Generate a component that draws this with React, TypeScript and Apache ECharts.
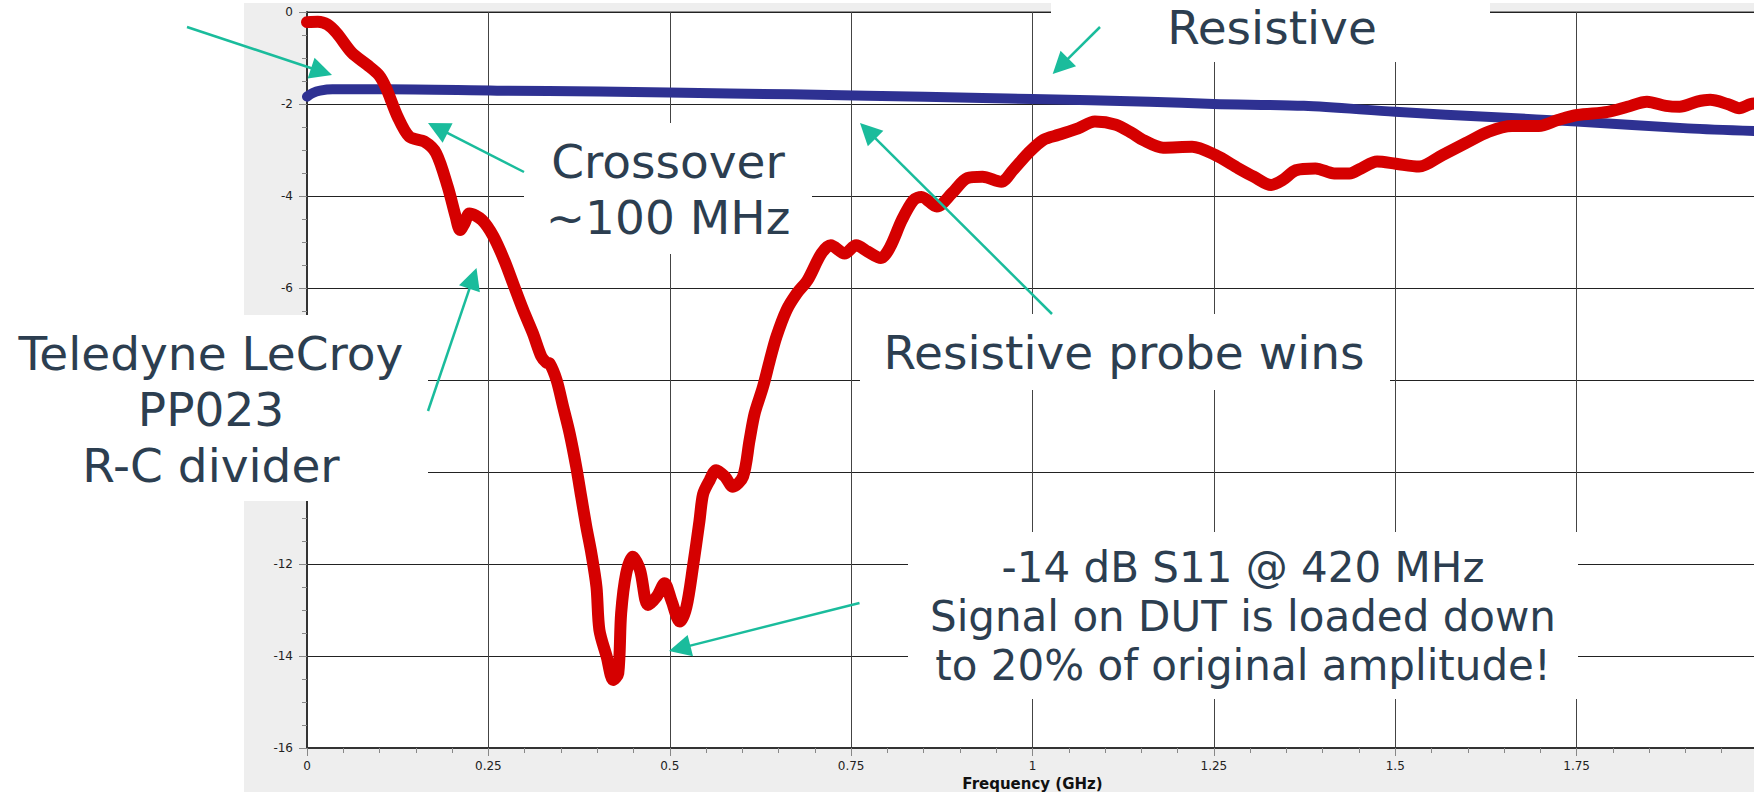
import React, { useEffect, useRef } from "react";
import * as echarts from "echarts";

// S11 of the R-C divider probe (Teledyne LeCroy PP023), dB vs GHz
const pp023Freq = [
  0.0, 0.015, 0.028, 0.041, 0.062, 0.083, 0.099, 0.109, 0.125, 0.141, 0.162, 0.178, 0.194, 0.205, 0.211, 0.217,
  0.224, 0.241, 0.257, 0.272, 0.284, 0.298, 0.3115, 0.323, 0.33, 0.3345, 0.344, 0.353, 0.362, 0.371, 0.378, 0.385,
  0.392, 0.399, 0.403, 0.413, 0.422, 0.429, 0.433, 0.44, 0.449, 0.459, 0.47, 0.482, 0.493, 0.502, 0.514, 0.523,
  0.532, 0.541, 0.546, 0.555, 0.564, 0.576, 0.587, 0.601, 0.61, 0.617, 0.6285, 0.638, 0.647, 0.661, 0.675, 0.69,
  0.709, 0.722, 0.741, 0.757, 0.773, 0.791, 0.804, 0.82, 0.836, 0.847, 0.868, 0.889, 0.91, 0.931, 0.957, 0.973,
  0.994, 1.015, 1.036, 1.063, 1.086, 1.115, 1.137, 1.152, 1.18, 1.22, 1.252, 1.284, 1.305, 1.329, 1.345, 1.363,
  1.39, 1.416, 1.437, 1.453, 1.475, 1.501, 1.533, 1.565, 1.597, 1.629, 1.661, 1.698, 1.724, 1.751, 1.793, 1.82,
  1.847, 1.873, 1.892, 1.916, 1.934, 1.958, 1.974, 1.99, 2.0,
];
const pp023Db = [
  -0.22, -0.21, -0.27, -0.46, -0.89, -1.15, -1.37, -1.65, -2.28, -2.71, -2.82, -3.07, -3.8, -4.45, -4.74, -4.6,
  -4.38, -4.52, -4.88, -5.4, -5.9, -6.48, -6.99, -7.49, -7.62, -7.64, -8.0, -8.58, -9.16, -9.88, -10.54, -11.19,
  -11.77, -12.5, -13.43, -14.01, -14.52, -14.38, -13.07, -12.2, -11.84, -12.13, -12.89, -12.71, -12.42, -12.78, -13.25, -12.93,
  -12.06, -11.06, -10.48, -10.18, -9.96, -10.1, -10.32, -10.1, -9.31, -8.73, -8.15, -7.57, -7.06, -6.48, -6.12, -5.83,
  -5.25, -5.07, -5.25, -5.07, -5.21, -5.35, -5.1, -4.52, -4.09, -4.02, -4.23, -3.94, -3.61, -3.58, -3.69, -3.44,
  -3.07, -2.78, -2.67, -2.53, -2.38, -2.45, -2.63, -2.78, -2.95, -2.93, -3.11, -3.4, -3.58, -3.76, -3.65, -3.44,
  -3.4, -3.51, -3.51, -3.4, -3.25, -3.3, -3.36, -3.11, -2.85, -2.6, -2.48, -2.48, -2.35, -2.24, -2.17, -2.06,
  -1.95, -2.04, -2.06, -1.95, -1.91, -2.0, -2.09, -2.0, -1.98,
];

// S11 of the resistive probe
const resistiveFreq = [
  0.0, 0.008, 0.018, 0.035, 0.11, 0.262, 0.403, 0.498, 0.667, 0.772, 0.931, 1.0, 1.161, 1.25, 1.374, 1.5, 1.639,
  1.75, 1.903, 2.0,
];
const resistiveDb = [
  -1.84, -1.76, -1.71, -1.68, -1.68, -1.71, -1.73, -1.75, -1.79, -1.82, -1.87, -1.89, -1.95, -2.0, -2.04, -2.17,
  -2.29, -2.38, -2.53, -2.59,
];

// Axis ranges and tick steps
const freqRange = [0, 2];
const freqStep = 0.25;
const dbRange = [-16, 0];
const dbStep = 2;
// dB tick labels that sit under the probe callout box
const coveredDbLabels = [-8, -10];

// Callout texts
const calloutTexts = {
  divider: ["Teledyne LeCroy", "PP023", "R-C divider"],
  crossover: ["Crossover", "~100 MHz"],
  resistive: ["Resistive"],
  wins: ["Resistive probe wins"],
  loading: ["-14 dB S11 @ 420 MHz", "Signal on DUT is loaded down", "to 20% of original amplitude!"],
};

// Callout layout (pixels)
const FONT = "DejaVu Sans";
const TEXT_COLOR = "#2c3e50";
const ARROW_COLOR = "#1abc9c";

const whiteBoxes = [
  { x: 0, y: 315, w: 428, h: 186 },
  { x: 524, y: 123, w: 288, h: 131 },
  { x: 1051, y: 0, w: 439, h: 62 },
  { x: 860, y: 314, w: 530, h: 76 },
  { x: 908, y: 532, w: 670, h: 167 },
];

const textBlocks = [
  { lines: calloutTexts.divider, cx: 211, y: 353, step: 56, size: 47 },
  { lines: calloutTexts.crossover, cx: 668, y: 161, step: 56, size: 47 },
  { lines: calloutTexts.resistive, cx: 1272, y: 27, step: 56, size: 47 },
  { lines: calloutTexts.wins, cx: 1124, y: 352, step: 56, size: 47 },
  { lines: calloutTexts.loading, cx: 1243, y: 567, step: 49, size: 42 },
];

const arrows = [
  [187, 27, 332, 75],
  [524, 172, 428, 123],
  [428, 411, 476.5, 268],
  [1100, 27, 1052.7, 74],
  [1052, 314, 860, 123],
  [859.5, 603, 669, 651],
];

function buildGraphics() {
  const els: any[] = [];
  whiteBoxes.forEach((b) => {
    els.push({
      type: "rect",
      z: 100,
      shape: { x: b.x, y: b.y, width: b.w, height: b.h },
      style: { fill: "#ffffff" },
      silent: true,
    });
  });
  textBlocks.forEach((t) => {
    t.lines.forEach((line, i) => {
      els.push({
        type: "text",
        z: 101,
        x: t.cx,
        y: t.y + i * t.step,
        style: {
          text: line,
          fontFamily: FONT,
          fontSize: t.size,
          lineHeight: t.size - 4,
          fill: TEXT_COLOR,
          align: "center",
          verticalAlign: "middle",
        },
        silent: true,
      });
    });
  });
  const headLen = 22;
  const headHalf = 11;
  arrows.forEach(([x1, y1, x2, y2]) => {
    const dx = x2 - x1;
    const dy = y2 - y1;
    const len = Math.hypot(dx, dy);
    const ux = dx / len;
    const uy = dy / len;
    const bx = x2 - ux * headLen;
    const by = y2 - uy * headLen;
    els.push({
      type: "line",
      z: 102,
      shape: { x1, y1, x2: bx + ux * 2, y2: by + uy * 2 },
      style: { stroke: ARROW_COLOR, lineWidth: 2.5 },
      silent: true,
    });
    els.push({
      type: "polygon",
      z: 102,
      shape: {
        points: [
          [x2, y2],
          [bx - uy * headHalf, by + ux * headHalf],
          [bx + uy * headHalf, by - ux * headHalf],
        ],
      },
      style: { fill: ARROW_COLOR },
      silent: true,
    });
  });
  return els;
}

export default function App() {
  const ref = useRef<HTMLDivElement>(null);

  useEffect(() => {
    if (!ref.current) return;
    const chart = echarts.init(ref.current, undefined, { renderer: "svg" });
    const pp023 = pp023Freq.map((f, i) => [f, pp023Db[i]]);
    const resistive = resistiveFreq.map((f, i) => [f, resistiveDb[i]]);

    const axisLabel = { fontFamily: FONT, fontSize: 12, color: "#222" };

    chart.setOption({
      animation: false,
      backgroundColor: "transparent",
      grid: {
        left: 307,
        top: 12,
        width: 1451,
        height: 736,
        outerBoundsMode: "none",
        containLabel: false,
        show: true,
        backgroundColor: "#ffffff",
        borderColor: "#333",
        borderWidth: 1,
      },
      xAxis: {
        type: "value",
        min: freqRange[0],
        max: freqRange[1],
        interval: freqStep,
        name: "Frequency (GHz)",
        nameLocation: "middle",
        nameGap: 27,
        nameTextStyle: { fontFamily: FONT, fontWeight: "bold", fontSize: 15, color: "#111" },
        axisLine: { show: true, onZero: false, lineStyle: { color: "#333", width: 2 } },
        axisTick: { show: true, length: 8, lineStyle: { color: "#888" } },
        minorTick: { show: true, splitNumber: 5, length: 5, lineStyle: { color: "#888" } },
        axisLabel: { ...axisLabel, margin: 12, showMaxLabel: false },
        splitLine: { show: true, lineStyle: { color: "#444", width: 1 } },
      },
      yAxis: {
        type: "value",
        min: dbRange[0],
        max: dbRange[1],
        interval: dbStep,
        axisLine: { show: true, onZero: false, lineStyle: { color: "#333", width: 2 } },
        axisTick: { show: true, length: 8, lineStyle: { color: "#888" } },
        minorTick: { show: true, splitNumber: 4, length: 5, lineStyle: { color: "#888" } },
        axisLabel: {
          ...axisLabel,
          margin: 14,
          formatter: (v: number) => (coveredDbLabels.includes(v) ? "" : String(v)),
        },
        splitLine: { show: true, lineStyle: { color: "#222", width: 1 } },
      },
      series: [
        {
          name: "Resistive",
          type: "line",
          data: resistive,
          showSymbol: false,
          smooth: 0.3,
          z: 3,
          lineStyle: { color: "#2e3192", width: 10, cap: "round", join: "round" },
        },
        {
          name: "PP023",
          type: "line",
          data: pp023,
          showSymbol: false,
          smooth: 0.3,
          z: 4,
          lineStyle: { color: "#d50000", width: 12, cap: "round", join: "round" },
        },
      ],
      graphic: buildGraphics(),
    });

    return () => chart.dispose();
  }, []);

  return (
    <div style={{ position: "fixed", left: 0, top: 0, width: 1754, height: 792, background: "#ffffff", overflow: "hidden" }}>
      <div style={{ position: "absolute", left: 244, top: 3, width: 1510, height: 789, background: "#eeeeee" }} />
      <div ref={ref} style={{ position: "absolute", left: 0, top: 0, width: 1754, height: 792 }} />
    </div>
  );
}
